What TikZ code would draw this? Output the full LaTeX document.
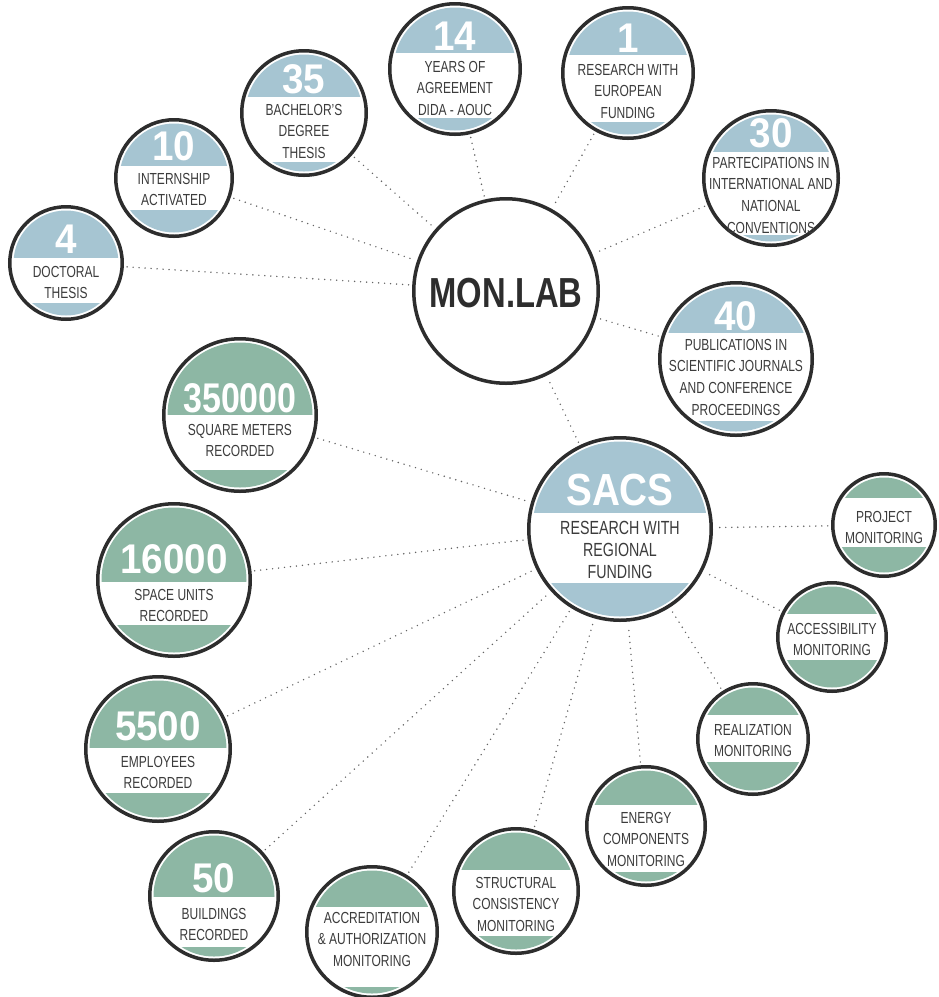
\documentclass[tikz,border=0pt]{standalone}
\usepackage{fontspec}
\usetikzlibrary{backgrounds}
\setmainfont{Liberation Sans}
\newfontfamily\labfont[FakeStretch=0.75]{Liberation Sans}
\newfontfamily\numfont[FakeStretch=0.93]{Liberation Sans Bold}
\newfontfamily\monfont[FakeStretch=0.78]{Liberation Sans Bold}
\newfontfamily\sacsfont[FakeStretch=0.86]{Liberation Sans Bold}
\definecolor{blueC}{RGB}{166,197,210}
\definecolor{greenC}{RGB}{141,183,164}
\definecolor{ringC}{RGB}{45,45,45}
\definecolor{txtC}{RGB}{60,60,60}
\definecolor{linkC}{RGB}{100,100,100}
\newcommand\lbl[1]{\begin{tabular}[t]{@{}c@{}}#1\end{tabular}}
% name, cx, cy, r, capY, bandY, colour
\newcommand\bubble[7]{%
  \node[bub, minimum size={2*#4pt-3.5pt}] (#1) at (#2,#3) {};
  \begin{scope}
    \clip (#2,#3) circle ({#4pt-5.5pt});
    \fill[#7] (#2-#4,#3-#4) rectangle (#2+#4,#5);
    \fill[#7] (#2-#4,#6) rectangle (#2+#4,#3+#4);
  \end{scope}}
% name, cx, baseline, text
\newcommand\numlbl[4]{\node[numtxt] (#1) at (#2,#3) {#4};}
\newcommand\txtlbl[4]{\node[labtxt] (#1) at (#2,#3) {\lbl{#4}};}
\begin{document}
\begin{tikzpicture}[x=1pt,y=-1pt,
  bub/.style={circle, draw=ringC, fill=white, line width=3.5pt, inner sep=0pt, outer sep=0pt},
  numtxt/.style={anchor=base, inner sep=0pt, text=white, font=\numfont\fontsize{41.5}{41.5}\selectfont},
  labtxt/.style={anchor=base, inner sep=0pt, text=txtC, font=\labfont\fontsize{16}{21.7}\selectfont},
  link/.style={draw=linkC, line width=1.6pt, line cap=round, dash pattern=on 0pt off 6pt, shorten >=5pt, shorten <=5pt}]
\useasboundingbox (0,0) rectangle (939,997);
% hubs
\bubble{monlab}{506}{291}{94}{100}{500}{white}
\node[anchor=base, inner sep=0pt, text=ringC, font=\monfont\fontsize{42}{42}\selectfont] (monlabt) at (506,307) {MON.LAB};
\bubble{sacs}{620}{529}{93}{513}{583}{blueC}
\node[anchor=base, inner sep=0pt, text=white, font=\sacsfont\fontsize{45}{45}\selectfont] (sacst) at (620,505) {SACS};
\node[labtxt, font=\labfont\fontsize{19}{22.2}\selectfont] (sacsl) at (620,534) {\lbl{RESEARCH WITH\\REGIONAL\\FUNDING}};
% blue satellites
\bubble{doc}{66}{263}{58}{258}{303}{blueC}
\numlbl{docn}{66}{253}{4}
\txtlbl{docl}{66}{277}{DOCTORAL\\THESIS}
\bubble{int}{174}{178}{60}{166}{210}{blueC}
\numlbl{intn}{174}{160}{10}
\txtlbl{intl}{174}{184}{INTERNSHIP\\ACTIVATED}
\bubble{bach}{304}{113}{64}{97}{162}{blueC}
\numlbl{bachn}{304}{93}{35}
\txtlbl{bachl}{304}{115}{BACHELOR’S\\DEGREE\\THESIS}
\bubble{yrs}{455}{69}{67}{53}{118}{blueC}
\numlbl{yrsn}{455}{50}{14}
\txtlbl{yrsl}{455}{72}{YEARS OF\\AGREEMENT\\DIDA - AOUC}
\bubble{eur}{628}{73}{67}{55}{122}{blueC}
\numlbl{eurn}{628}{52}{1}
\txtlbl{eurl}{628}{75}{RESEARCH WITH\\EUROPEAN\\FUNDING}
\bubble{conv}{771}{178}{69}{152}{235}{blueC}
\numlbl{convn}{771}{147}{30}
\txtlbl{convl}{771}{168}{PARTECIPATIONS IN\\INTERNATIONAL AND\\NATIONAL\\CONVENTIONS}
\bubble{pub}{736}{359}{78}{333}{421}{blueC}
\numlbl{pubn}{736}{330}{40}
\txtlbl{publ}{736}{350}{PUBLICATIONS IN\\SCIENTIFIC JOURNALS\\AND CONFERENCE\\PROCEEDINGS}
% green satellites
\bubble{sqm}{240}{415}{78}{415}{470}{greenC}
\node[numtxt] (sqmn) at (240,412) {\scalebox{0.88}[1]{350000}};
\txtlbl{sqml}{240}{435}{SQUARE METERS\\RECORDED}
\bubble{spu}{174}{580}{78}{582}{625}{greenC}
\numlbl{spun}{174}{573}{16000}
\txtlbl{spul}{174}{600}{SPACE UNITS\\RECORDED}
\bubble{emp}{158}{749}{74}{748}{793}{greenC}
\numlbl{empn}{158}{740}{5500}
\txtlbl{empl}{158}{767}{EMPLOYEES\\RECORDED}
\bubble{bld}{214}{896}{66}{897}{947}{greenC}
\numlbl{bldn}{214}{892}{50}
\txtlbl{bldl}{214}{919}{BUILDINGS\\RECORDED}
\bubble{acc}{372}{932}{67}{907}{987}{greenC}
\txtlbl{accl}{372}{923}{ACCREDITATION\\\& AUTHORIZATION\\MONITORING}
\bubble{str}{516}{891}{64}{870}{936}{greenC}
\txtlbl{strl}{516}{888}{STRUCTURAL\\CONSISTENCY\\MONITORING}
\bubble{ene}{646}{826}{61}{805}{872}{greenC}
\txtlbl{enel}{646}{823}{ENERGY\\COMPONENTS\\MONITORING}
\bubble{rea}{753}{739}{57}{715}{762}{greenC}
\txtlbl{real}{753}{735}{REALIZATION\\MONITORING}
\bubble{acs}{832}{637}{56}{614}{660}{greenC}
\txtlbl{acsl}{832}{634}{ACCESSIBILITY\\MONITORING}
\bubble{prj}{884}{525}{53}{498}{547}{greenC}
\txtlbl{prjl}{884}{522}{PROJECT\\MONITORING}
% connectors
\begin{pgfonlayer}{background}
\foreach \s in {doc,int,bach,yrs,eur,conv,pub,sacs}
  \draw[link] (\s) -- (monlab);
\foreach \s in {sqm,spu,emp,bld,acc,str,ene,rea,acs,prj}
  \draw[link] (\s) -- (sacs);
\end{pgfonlayer}
\end{tikzpicture}
\end{document}
